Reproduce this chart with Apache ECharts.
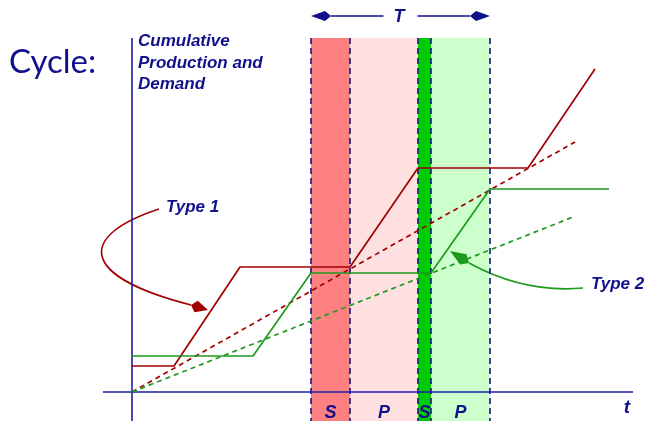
<!DOCTYPE html>
<html>
<head>
<meta charset="utf-8">
<script src="https://cdn.jsdelivr.net/npm/echarts@6/dist/echarts.min.js"></script>
<style>
  html, body { margin: 0; padding: 0; background: #fff; }
  #chart { width: 652px; height: 421px; }
</style>
</head>
<body>
<div id="chart"></div>
<script>
// units: 1 unit = 10 px, origin at the axes crossing
const type1 = [[0, 2.6], [4.2, 2.6], [10.8, 12.5], [21.8, 12.5], [28.6, 22.4], [39.6, 22.4], [46.3, 32.3]];
const type2 = [[0, 3.6], [12.1, 3.6], [17.9, 11.9], [29.9, 11.9], [35.8, 20.3], [47.7, 20.3]];
const demand1 = [[0, 0], [44.3, 25.0]];
const demand2 = [[0, 0], [44.1, 17.5]];

const bandEdges = [17.9, 21.8, 28.6, 29.9, 35.8];
const bandNames = ['S', 'P', 'S', 'P'];
const bandColors = ['#ff8080', '#ffe0e0', '#00cc00', '#ccffcc'];
const bandTop = 35.4;
const bandBottom = -3.2;

const xAxisLine = [[-2.9, 0], [50.1, 0]];
const yAxisLine = [[0, -3.2], [0, 35.4]];

const tArrowY = 37.6;
const type1Curve = [[2.7, 18.3], [-5.2, 15.7], [-5.7, 11.7], [5.9, 8.7]];
const type1Tip = [7.6, 8.2];
const type2Curve = [[45.1, 10.4], [40.8, 10.0], [36.8, 11.2], [33.7, 12.9]];
const type2Tip = [31.8, 14.1];

const navy = '#10108c';
const axisBlue = '#1c1ca8';
const red = '#a00000';
const green = '#1e9a1e';

const mid = (bandEdges[0] + bandEdges[4]) / 2;
const arrows = [
  { pts: type1Curve, tip: type1Tip, color: red, w: 12 },
  { pts: type2Curve, tip: type2Tip, color: green, w: 12 },
  { pts: [[mid - 1.7, tArrowY], [bandEdges[0] + 2, tArrowY]], tip: [bandEdges[0], tArrowY], color: navy, w: 10 },
  { pts: [[mid + 1.7, tArrowY], [bandEdges[4] - 2, tArrowY]], tip: [bandEdges[4], tArrowY], color: navy, w: 10 }
];

function kite(rear, tip, w) {
  const dx = tip[0] - rear[0], dy = tip[1] - rear[1];
  const l = Math.sqrt(dx * dx + dy * dy);
  const nx = -dy / l, ny = dx / l;
  const m = [rear[0] + dx * 0.3, rear[1] + dy * 0.3];
  return [tip, [m[0] + nx * w / 2, m[1] + ny * w / 2], rear, [m[0] - nx * w / 2, m[1] - ny * w / 2]];
}

const chart = echarts.init(document.getElementById('chart'));

const edgeSeries = bandEdges.map(e => ({
  type: 'line', data: [[e, bandBottom], [e, bandTop]], symbol: 'none', silent: true,
  lineStyle: { color: '#141480', width: 1.6, type: [6, 4] }
}));

const option = {
  animation: false,
  grid: { left: 0, top: 0, right: 0, bottom: 0 },
  xAxis: { type: 'value', min: -13.2, max: 52, show: false },
  yAxis: { type: 'value', min: -2.9, max: 39.2, show: false },
  graphic: [
    { type: 'text', style: { x: 9, y: 62, text: 'Cycle:', font: '33px Lato', fill: navy, verticalAlign: 'middle' } },
    { type: 'text', style: { x: 138, y: 31, text: 'Cumulative\nProduction and\nDemand', font: 'italic bold 17px "Liberation Sans"', lineHeight: 21.5, fill: navy, verticalAlign: 'top' } },
    { type: 'text', style: { x: 166, y: 207, text: 'Type 1', font: 'italic bold 17px "Liberation Sans"', fill: navy, verticalAlign: 'middle' } },
    { type: 'text', style: { x: 591, y: 284, text: 'Type 2', font: 'italic bold 17px "Liberation Sans"', fill: navy, verticalAlign: 'middle' } },
    { type: 'text', style: { x: 399, y: 17, text: 'T', font: 'italic bold 18px "Liberation Sans"', fill: navy, align: 'center', verticalAlign: 'middle' } },
    { type: 'text', style: { x: 627, y: 408, text: 't', font: 'italic bold 19px "Liberation Sans"', fill: navy, align: 'center', verticalAlign: 'middle' } }
  ],
  series: [
    {
      type: 'line', data: [[0, 0]], symbol: 'none', silent: true, lineStyle: { opacity: 0 },
      markArea: {
        silent: true,
        data: bandNames.map((n, i) => [
          { xAxis: bandEdges[i], yAxis: bandBottom, name: n, itemStyle: { color: bandColors[i] } },
          { xAxis: bandEdges[i + 1], yAxis: bandTop }
        ]),
        label: {
          show: true, position: ['50%', 375], align: 'center', verticalAlign: 'middle',
          color: navy, fontSize: 18, fontStyle: 'italic', fontWeight: 'bold', fontFamily: 'Liberation Sans'
        }
      }
    },
    ...edgeSeries,
    { type: 'line', data: xAxisLine, symbol: 'none', lineStyle: { color: axisBlue, width: 1.6 } },
    { type: 'line', data: yAxisLine, symbol: 'none', lineStyle: { color: axisBlue, width: 1.6 } },
    { type: 'line', data: demand1, symbol: 'none', lineStyle: { color: red, width: 1.7, type: [5, 4] } },
    { type: 'line', data: demand2, symbol: 'none', lineStyle: { color: green, width: 1.7, type: [5, 4] } },
    { type: 'line', data: type1, symbol: 'none', lineStyle: { color: red, width: 1.7 } },
    { type: 'line', data: type2, symbol: 'none', lineStyle: { color: green, width: 1.7 } },
    {
      type: 'custom', silent: true,
      data: arrows.map((a, i) => [i, 0]),
      renderItem: function (params, api) {
        const a = arrows[params.dataIndex];
        const p = a.pts.map(c => api.coord(c));
        const tip = api.coord(a.tip);
        const children = [];
        if (p.length === 4) {
          children.push({
            type: 'bezierCurve',
            shape: { x1: p[0][0], y1: p[0][1], cpx1: p[1][0], cpy1: p[1][1], cpx2: p[2][0], cpy2: p[2][1], x2: p[3][0], y2: p[3][1] },
            style: { stroke: a.color, lineWidth: 1.6, fill: null }
          });
        } else {
          children.push({
            type: 'line',
            shape: { x1: p[0][0], y1: p[0][1], x2: p[1][0], y2: p[1][1] },
            style: { stroke: a.color, lineWidth: 1.6 }
          });
        }
        children.push({
          type: 'polygon',
          shape: { points: kite(p[p.length - 1], tip, a.w) },
          style: { fill: a.color }
        });
        return { type: 'group', children: children };
      }
    }
  ]
};

chart.setOption(option);
</script>
</body>
</html>
